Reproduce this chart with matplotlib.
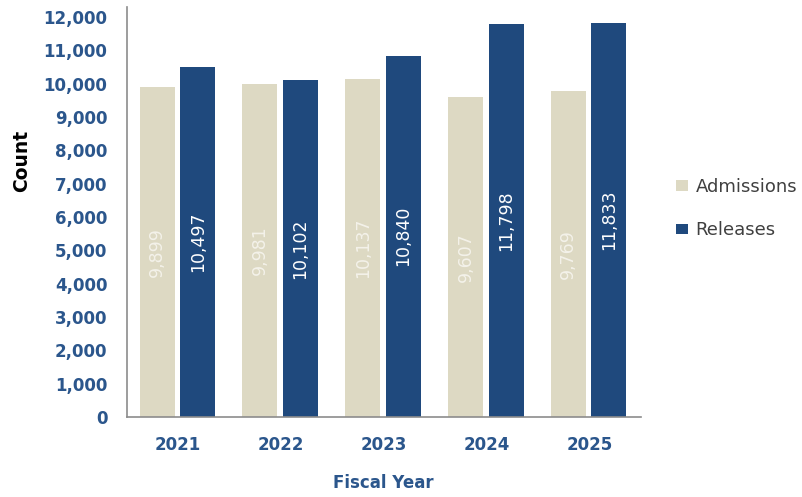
import matplotlib
matplotlib.use("Agg")
import matplotlib.pyplot as plt
import numpy as np

years = ["2021", "2022", "2023", "2024", "2025"]
admissions = [9899, 9981, 10137, 9607, 9769]
releases = [10497, 10102, 10840, 11798, 11833]

plt.rcParams['font.family'] = ['DejaVu Sans']

blue = "#1F497D"
beige = "#DDD9C3"
tick_blue = "#2B568C"

fig = plt.figure(figsize=(8.02, 4.97), dpi=100)
ax = fig.add_axes([0.158, 0.161, 0.641, 0.825])

x = np.arange(len(years))
w = 0.34
b1 = ax.bar(x - 0.205, admissions, w, color=beige, label="Admissions")
b2 = ax.bar(x + 0.19, releases, w, color=blue, label="Releases")

for rect, v in zip(b1, admissions):
    ax.text(rect.get_x() + rect.get_width() / 2, v / 2, f"{v:,}", rotation=90,
            ha="center", va="center", color="#F4F2EA", fontsize=12.5)
for rect, v in zip(b2, releases):
    ax.text(rect.get_x() + rect.get_width() / 2, v / 2, f"{v:,}", rotation=90,
            ha="center", va="center", color="white", fontsize=12.5)

ax.set_xlim(-0.5, 4.5)
ax.set_ylim(0, 12300)
ax.set_yticks(range(0, 12001, 1000))
ax.set_yticklabels([f"{t:,}" for t in range(0, 12001, 1000)])
ax.set_xticks(x)
ax.set_xticklabels(years)

for lab in ax.get_yticklabels() + ax.get_xticklabels():
    lab.set_color(tick_blue)
    lab.set_fontweight("bold")
    lab.set_fontsize(12)

ax.tick_params(axis="both", length=0)
ax.tick_params(axis="y", pad=14)
ax.tick_params(axis="x", pad=14)

for s in ["top", "right"]:
    ax.spines[s].set_visible(False)
for s in ["left", "bottom"]:
    ax.spines[s].set_color("#8C8C8C")
    ax.spines[s].set_linewidth(1.2)

ax.set_ylabel("Count", fontsize=13.5, fontweight="bold", color="black")
ax.yaxis.set_label_coords(-0.185, 0.624)
ax.set_xlabel("Fiscal Year", fontsize=12, fontweight="bold", color=tick_blue, labelpad=14)

leg = fig.legend(handles=[b1, b2], labels=["Admissions", "Releases"],
                 loc="center left", bbox_to_anchor=(0.843, 0.580), frameon=False,
                 borderpad=0, borderaxespad=0,
                 fontsize=13, handlelength=0.67, handleheight=0.55, labelspacing=1.4,
                 handletextpad=0.4)
for t in leg.get_texts():
    t.set_color("#404040")

fig.savefig("out.png", dpi=100)
